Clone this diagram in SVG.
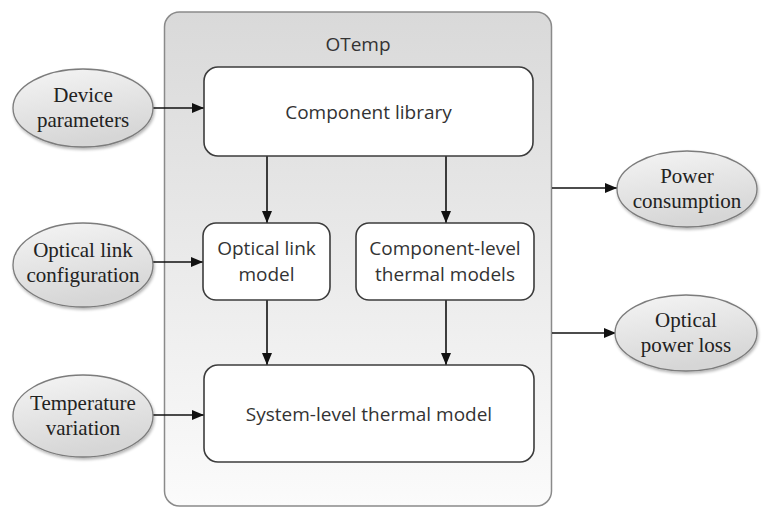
<svg xmlns="http://www.w3.org/2000/svg" width="765" height="508" viewBox="0 0 765 508">
  <defs>
    <linearGradient id="panelFill" x1="0" y1="0" x2="0" y2="1">
      <stop offset="0" stop-color="#d9d9d9"/>
      <stop offset="1" stop-color="#fbfbfb"/>
    </linearGradient>
    <linearGradient id="ovalFill" x1="0" y1="0" x2="0.3" y2="1">
      <stop offset="0" stop-color="#f5f5f5"/>
      <stop offset="1" stop-color="#d6d6d6"/>
    </linearGradient>
    <filter id="soft" x="-10%" y="-10%" width="125%" height="130%">
      <feGaussianBlur in="SourceAlpha" stdDeviation="1.5"/>
      <feOffset dx="1" dy="2" result="b"/>
      <feComponentTransfer><feFuncA type="linear" slope="0.3"/></feComponentTransfer>
      <feMerge><feMergeNode/><feMergeNode in="SourceGraphic"/></feMerge>
    </filter>
    <marker id="arrow" viewBox="0 0 12 10" refX="12" refY="5" markerWidth="12" markerHeight="10" markerUnits="userSpaceOnUse" orient="auto">
      <path d="M0,0 L12,5 L0,10 Z" fill="#111"/>
    </marker>
  </defs>
  <style>
    .panel { fill: url(#panelFill); stroke: #8a8a8a; stroke-width: 1.5; }
    .box { fill: #ffffff; stroke: #3c3c3c; stroke-width: 1.6; }
    .oval { fill: url(#ovalFill); stroke: #7c7c7c; stroke-width: 1.3; filter: url(#soft); }
    .sans { font-family: "Open Sans", "Noto Sans", sans-serif; font-size: 19px; fill: #333; text-anchor: middle; }
    .serif { font-family: "Liberation Serif", "Times New Roman", serif; font-size: 21px; fill: #222; text-anchor: middle; }
    .wire { stroke: #111; stroke-width: 1.6; fill: none; marker-end: url(#arrow); }
  </style>

  <rect width="765" height="508" fill="#ffffff"/>

  <!-- OTemp container -->
  <g id="otemp">
    <rect class="panel" x="164.5" y="12" width="387" height="494" rx="15"/>
    <text class="sans" x="358" y="51">OTemp</text>
  </g>

  <!-- connectors -->
  <g id="connectors">
    <line class="wire" x1="153" y1="108" x2="204" y2="108"/>
    <line class="wire" x1="153" y1="262" x2="203" y2="262"/>
    <line class="wire" x1="153" y1="415" x2="204" y2="415"/>
    <line class="wire" x1="267" y1="156" x2="267" y2="223"/>
    <line class="wire" x1="446" y1="156" x2="446" y2="223"/>
    <line class="wire" x1="267" y1="300" x2="267" y2="365"/>
    <line class="wire" x1="446" y1="300" x2="446" y2="365"/>
    <line class="wire" x1="552" y1="188" x2="617" y2="188"/>
    <line class="wire" x1="552" y1="333" x2="616" y2="333"/>
  </g>

  <!-- inner models -->
  <g id="component-library">
    <rect class="box" x="204" y="67" width="329" height="89" rx="14"/>
    <text class="sans" x="368.5" y="119">Component library</text>
  </g>
  <g id="optical-link-model">
    <rect class="box" x="203" y="223" width="127" height="77" rx="13"/>
    <text class="sans" x="266.5" y="255">Optical link</text>
    <text class="sans" x="266.5" y="281">model</text>
  </g>
  <g id="component-thermal-models">
    <rect class="box" x="356" y="223" width="178" height="77" rx="13"/>
    <text class="sans" x="445" y="255">Component-level</text>
    <text class="sans" x="445" y="281">thermal models</text>
  </g>
  <g id="system-thermal-model">
    <rect class="box" x="204" y="365" width="330" height="97" rx="14"/>
    <text class="sans" x="369" y="421">System-level thermal model</text>
  </g>

  <!-- inputs -->
  <g id="device-parameters">
    <ellipse class="oval" cx="83" cy="108" rx="70" ry="39"/>
    <text class="serif" x="83" y="102">Device</text>
    <text class="serif" x="83" y="127">parameters</text>
  </g>
  <g id="optical-link-configuration">
    <ellipse class="oval" cx="83" cy="265" rx="70" ry="42"/>
    <text class="serif" x="83" y="257">Optical link</text>
    <text class="serif" x="83" y="282">configuration</text>
  </g>
  <g id="temperature-variation">
    <ellipse class="oval" cx="83" cy="416" rx="70" ry="41"/>
    <text class="serif" x="83" y="410">Temperature</text>
    <text class="serif" x="83" y="435">variation</text>
  </g>

  <!-- outputs -->
  <g id="power-consumption">
    <ellipse class="oval" cx="687" cy="189" rx="70" ry="38"/>
    <text class="serif" x="687" y="183">Power</text>
    <text class="serif" x="687" y="208">consumption</text>
  </g>
  <g id="optical-power-loss">
    <ellipse class="oval" cx="686" cy="333" rx="71" ry="38"/>
    <text class="serif" x="686" y="327">Optical</text>
    <text class="serif" x="686" y="352">power loss</text>
  </g>
</svg>
